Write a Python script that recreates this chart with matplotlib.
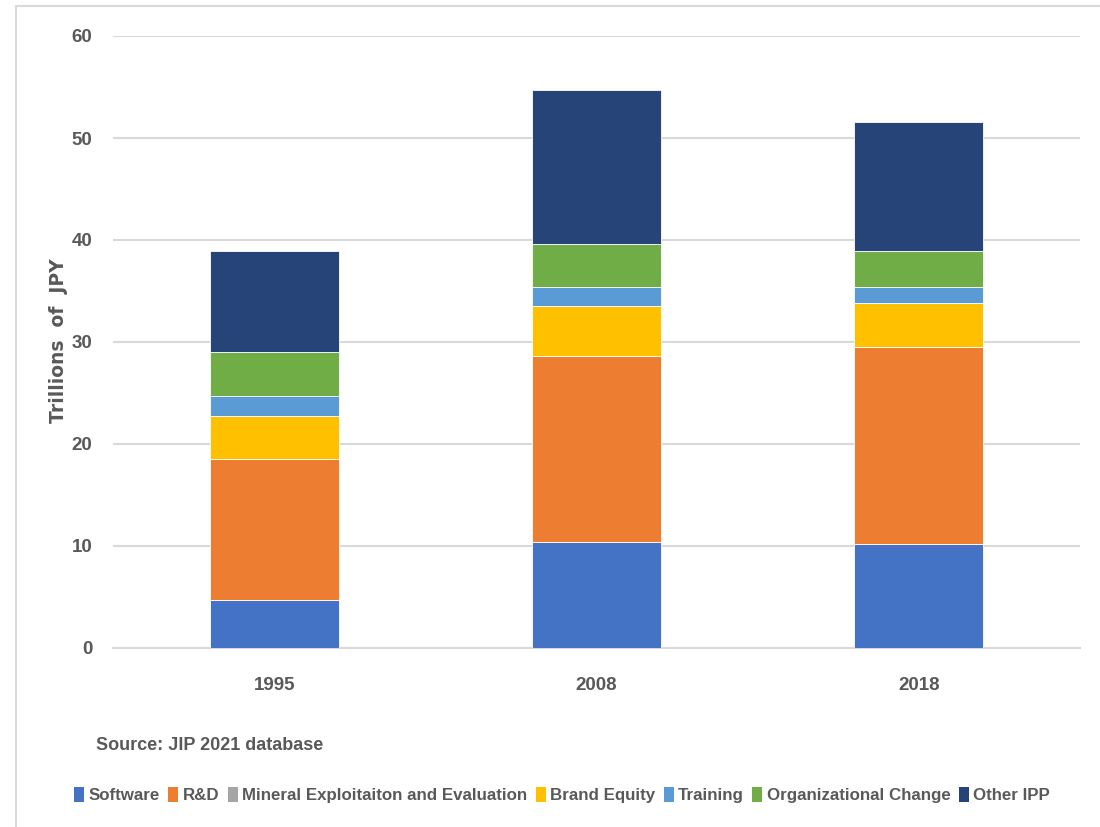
import matplotlib
matplotlib.use("Agg")
import matplotlib.pyplot as plt
from matplotlib.patches import Rectangle, Patch
import numpy as np

# ── Data (trillions of JPY) ────────────────────────────────────────────────
years = ["1995", "2008", "2018"]
software = [4.7, 10.4, 10.2]
rnd = [13.8, 18.2, 19.3]
mineral = [0.03, 0.03, 0.03]
brand = [4.2, 4.9, 4.3]
training = [2.0, 1.9, 1.6]
org_change = [4.3, 4.2, 3.5]
other_ipp = [9.9, 15.1, 12.6]

series_names = ["Software", "R&D", "Mineral Exploitaiton and Evaluation",
                "Brand Equity", "Training", "Organizational Change", "Other IPP"]
series_vals = [software, rnd, mineral, brand, training, org_change, other_ipp]
colors = ["#4472C4", "#ED7D31", "#A5A5A5", "#FFC000",
          "#5B9BD5", "#70AD47", "#264478"]

TXT = "#595959"
GRID = "#D9D9D9"
FONT = ["Liberation Sans", "DejaVu Sans"]

fig = plt.figure(figsize=(11, 8.27), dpi=100)
fig.patch.set_facecolor("white")

# outer chart-area frame
fig.patches.append(Rectangle((16 / 1100, -0.05), 1.1, 1.05 - 6 / 827,
                             transform=fig.transFigure, fill=False,
                             edgecolor="#D9D9D9", linewidth=1.5))

ax = fig.add_axes([113 / 1100, 1 - 648 / 827, 967 / 1100, 612 / 827])
x = np.arange(len(years))
bottom = np.zeros(len(years))
for name, vals, col in zip(series_names, series_vals, colors):
    ax.bar(x, vals, width=0.4, bottom=bottom, color=col,
           edgecolor="white", linewidth=0.6, label=name, zorder=3)
    bottom += np.array(vals)

ax.set_xlim(-0.5, len(years) - 0.5)
ax.set_ylim(0, 60)
ax.set_yticks(range(0, 61, 10))
ax.set_xticks(x)
ax.set_xticklabels(years)
ax.yaxis.grid(True, color=GRID, linewidth=1.5, zorder=0)
ax.set_axisbelow(True)
for s in ["top", "right", "left"]:
    ax.spines[s].set_visible(False)
ax.spines["bottom"].set_color(GRID)
ax.spines["bottom"].set_linewidth(1.5)
ax.tick_params(axis="both", length=0, colors=TXT)
ax.tick_params(axis="y", pad=15)
ax.tick_params(axis="x", pad=21)
for lab in ax.get_xticklabels() + ax.get_yticklabels():
    lab.set_family(FONT)
    lab.set_fontweight("bold")
    lab.set_fontsize(13.5)

fig.text(58 / 1100, 1 - 341 / 827, "Trillions  of  JPY", rotation=90,
         ha="center", va="center", fontsize=13.5, fontweight="bold",
         color=TXT, family="DejaVu Sans")

fig.text(96 / 1100, 1 - 746 / 827, "Source: JIP 2021 database",
         ha="left", va="center", fontsize=13, fontweight="bold",
         color=TXT, family=FONT)

handles = [Patch(facecolor=c, edgecolor="none") for c in colors]
leg = fig.legend(handles, series_names, loc="center",
                 bbox_to_anchor=(562 / 1100, 1 - 795 / 827), ncol=7,
                 frameon=False, handlelength=0.6, handleheight=1.0,
                 handletextpad=0.25, columnspacing=0.5,
                 prop={"family": FONT, "weight": "bold", "size": 12.2})
for t in leg.get_texts():
    t.set_color(TXT)

fig.savefig("out.png", dpi=100, facecolor="white")
